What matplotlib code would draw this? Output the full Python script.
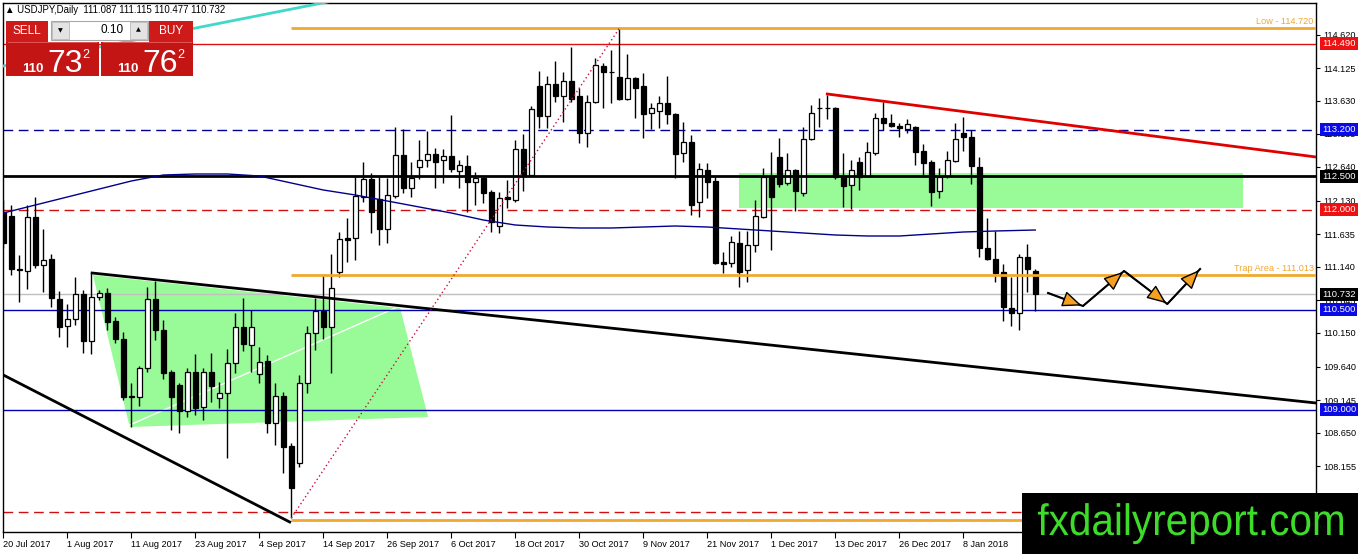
import numpy as np
import matplotlib
matplotlib.use("Agg")
import matplotlib.pyplot as plt
from matplotlib.patches import Rectangle, Polygon, PathPatch
from matplotlib.textpath import TextPath
from matplotlib.font_manager import FontProperties
from matplotlib.transforms import Affine2D, blended_transform_factory

plt.rcParams['font.family'] = ['Liberation Sans', 'DejaVu Sans']

# daily candles USDJPY, 20 Jul 2017 .. 19 Jan 2018
opens = [111.965, 111.905, 111.11, 111.08, 111.89, 111.17, 111.26, 110.66, 110.255, 110.36,
         110.735, 110.03, 110.69, 110.75, 110.33, 110.06, 109.205, 109.19, 109.625, 110.66,
         110.195, 109.565, 109.37, 108.98, 109.565, 109.04, 109.565, 109.175, 109.25, 109.70,
         110.24, 109.97, 109.535, 109.73, 108.80, 109.205, 108.455, 108.20, 109.40, 110.15,
         110.48, 110.24, 111.065, 111.575, 111.575, 112.19, 112.46, 112.16, 111.71, 112.205,
         112.82, 112.325, 112.64, 112.745, 112.835, 112.745, 112.805, 112.58, 112.655, 112.415,
         112.475, 112.265, 111.755, 112.19, 112.145, 112.91, 112.52, 113.855, 113.405, 113.885,
         113.705, 113.93, 113.705, 113.15, 113.615, 114.155, 114.065, 113.99, 113.66, 113.975,
         113.855, 113.45, 113.48, 113.60, 113.435, 112.85, 113.015, 112.115, 112.595, 112.43,
         111.215, 111.20, 111.50, 111.095, 111.47, 111.89, 112.49, 112.79, 112.40, 112.595,
         112.25, 113.06, 113.525, 113.525, 113.525, 112.49, 112.37, 112.715, 112.505, 112.85,
         113.375, 113.30, 113.255, 113.21, 113.24, 112.88, 112.715, 112.28, 112.505, 112.73,
         113.15, 113.09, 112.64, 111.425, 111.26, 111.065, 110.525, 110.45, 111.29, 111.087]
highs = [112.145, 112.07, 111.32, 112.07, 112.19, 111.71, 111.335, 110.78, 110.585, 110.99,
         110.795, 111.05, 110.795, 110.825, 110.39, 110.165, 109.40, 109.655, 110.84, 110.93,
         110.345, 109.595, 109.40, 109.625, 109.835, 109.625, 109.85, 109.415, 109.91, 110.45,
         110.675, 110.495, 109.94, 109.82, 109.40, 109.265, 108.50, 109.52, 110.255, 110.675,
         111.02, 111.335, 111.665, 111.875, 112.49, 112.715, 112.55, 112.49, 112.475, 113.24,
         113.21, 112.715, 113.045, 113.18, 112.925, 112.91, 113.42, 112.745, 112.82, 112.565,
         112.49, 112.295, 112.265, 112.445, 113.045, 113.135, 113.555, 114.08, 114.005, 114.23,
         114.065, 114.44, 113.825, 113.72, 114.275, 114.20, 114.395, 114.72, 114.335, 113.99,
         114.05, 113.60, 113.705, 114.005, 113.45, 113.315, 113.12, 112.70, 112.70, 112.49,
         111.365, 111.605, 111.68, 111.68, 112.145, 112.625, 112.865, 113.075, 112.85, 112.61,
         113.24, 113.57, 113.675, 113.72, 113.54, 112.85, 112.745, 112.79, 113.015, 113.45,
         113.615, 113.435, 113.30, 113.36, 113.255, 112.985, 112.745, 112.625, 112.88, 113.30,
         113.39, 113.195, 112.79, 111.875, 111.68, 111.185, 110.99, 111.335, 111.485, 111.115]
lows = [111.425, 111.02, 110.615, 110.81, 111.125, 110.765, 110.54, 110.09, 109.94, 110.27,
        109.85, 109.835, 110.645, 110.195, 110.00, 109.145, 108.74, 109.055, 109.565, 110.045,
        109.46, 108.695, 108.65, 108.89, 108.92, 108.845, 109.115, 109.025, 108.275, 109.55,
        109.88, 109.565, 109.40, 108.65, 108.47, 108.05, 107.375, 108.14, 109.25, 109.895,
        110.06, 109.55, 110.99, 111.215, 111.245, 112.115, 111.65, 111.47, 111.50, 112.175,
        112.25, 112.19, 112.46, 112.64, 112.325, 112.40, 112.565, 112.325, 111.965, 112.07,
        112.10, 111.665, 111.65, 112.025, 112.115, 112.28, 112.505, 113.225, 113.225, 113.615,
        113.315, 113.615, 113.00, 112.94, 113.60, 113.525, 113.60, 113.64, 113.64, 113.375,
        113.075, 113.21, 113.225, 113.285, 112.475, 112.715, 111.92, 111.89, 112.175, 111.18,
        111.05, 111.14, 110.84, 110.915, 111.365, 111.875, 111.395, 112.34, 112.37, 111.98,
        112.205, 113.045, 113.24, 113.36, 112.46, 112.04, 112.01, 112.295, 112.49, 112.82,
        113.195, 113.24, 113.09, 113.15, 112.67, 112.49, 112.055, 112.175, 112.475, 112.715,
        112.88, 112.385, 111.29, 111.245, 110.915, 110.33, 110.255, 110.195, 110.765, 110.477]
closes = [111.50, 111.11, 111.095, 111.89, 111.17, 111.245, 110.675, 110.24, 110.36, 110.735,
          110.03, 110.69, 110.75, 110.315, 110.06, 109.19, 109.19, 109.625, 110.66, 110.195,
          109.55, 109.19, 108.98, 109.565, 109.025, 109.565, 109.355, 109.25, 109.70, 110.24,
          109.985, 110.24, 109.715, 108.80, 109.205, 108.44, 107.825, 109.40, 110.15, 110.48,
          110.24, 110.825, 111.56, 111.545, 112.205, 112.46, 111.965, 111.71, 112.22, 112.82,
          112.325, 112.475, 112.745, 112.835, 112.715, 112.805, 112.61, 112.67, 112.415, 112.475,
          112.25, 111.815, 112.175, 112.16, 112.91, 112.52, 113.51, 113.405, 113.885, 113.705,
          113.93, 113.66, 113.15, 113.615, 114.17, 114.065, 114.06, 113.66, 113.975, 113.825,
          113.435, 113.525, 113.60, 113.435, 112.835, 113.015, 112.07, 112.61, 112.415, 111.20,
          111.185, 111.515, 111.065, 111.47, 111.905, 112.49, 112.19, 112.385, 112.595, 112.28,
          113.06, 113.45, 113.52, 113.52, 112.49, 112.355, 112.595, 112.49, 112.865, 113.375,
          113.30, 113.255, 113.225, 113.285, 112.865, 112.70, 112.265, 112.49, 112.745, 113.06,
          113.09, 112.655, 111.425, 111.26, 111.05, 110.54, 110.45, 111.29, 111.11, 110.732]

# moving average (blue), sampled every few bars
ma_bars = [0, 4, 8, 12, 16, 20, 24, 28, 32, 36, 40, 44, 48, 52, 56, 60, 64, 68, 72, 76,
           80, 84, 88, 92, 96, 100, 104, 108, 112, 116, 120, 124, 129]
ma_vals = [111.95, 112.07, 112.19, 112.31, 112.43, 112.52, 112.535, 112.535, 112.505, 112.40,
           112.295, 112.22, 112.13, 112.04, 111.95, 111.845, 111.77, 111.74, 111.725, 111.725,
           111.74, 111.755, 111.74, 111.71, 111.68, 111.65, 111.62, 111.605, 111.605, 111.635,
           111.665, 111.68, 111.695]

date_ticks = [0, 8, 16, 24, 32, 40, 48, 56, 64, 72, 80, 88, 96, 104, 112, 120]
date_labels = ["20 Jul 2017", "1 Aug 2017", "11 Aug 2017", "23 Aug 2017", "4 Sep 2017",
               "14 Sep 2017", "26 Sep 2017", "6 Oct 2017", "18 Oct 2017", "30 Oct 2017",
               "9 Nov 2017", "21 Nov 2017", "1 Dec 2017", "13 Dec 2017", "26 Dec 2017",
               "8 Jan 2018"]
price_ticks = [114.620, 114.125, 113.630, 113.135, 112.640, 112.130, 111.635, 111.140,
               110.645, 110.150, 109.640, 109.145, 108.650, 108.155, 107.660]

# levels
high_level = 114.720
trap_level = 111.013
bottom_level = 107.35
res_red = 114.490
res_blue = 113.200
pivot = 112.500
sup_red = 112.000
bid = 110.732
sup_blue = 110.500
sup_blue2 = 109.000
low_red = 107.465

# trend lines (bar index, price)
tl_lower_x, tl_lower_y = [0.0, 35.8], [109.52, 107.315]
tl_long_x, tl_long_y = [11.1, 164.1], [111.05, 109.10]
tl_red_x, tl_red_y = [103.0, 164.1], [113.735, 112.79]
tl_teal_x, tl_teal_y = [0.0, 40.5], [114.155, 115.115]
tl_dot_x, tl_dot_y = [36.0, 77.0], [107.375, 114.72]
tl_white_x, tl_white_y = [15.8, 49.0], [108.77, 110.525]
tri_x = [11.2, 49.6, 53.1, 15.8]
tri_y = [111.02, 110.525, 108.89, 108.74]
zone_x = [92.0, 155.0]
zone_y = [112.025, 112.55]
zig_x = [130.6, 134.96, 140.1, 145.5, 149.6]
zig_y = [110.75, 110.555, 111.08, 110.585, 111.11]

box_prices = [res_red, res_blue, pivot, sup_red, bid, sup_blue, sup_blue2]
box_colors = ['#ee1111', '#0a0ae6', 'black', '#ee1111', 'black', '#0a0ae6', '#0a0ae6']

W, H = 1358, 554
fig = plt.figure(figsize=(W / 100, H / 100), dpi=100)
ax = fig.add_axes([3 / W, 22 / H, 1313 / W, 529 / H])
xmax = 164.09
ax.set_xlim(-0.04, xmax)
ax.set_ylim(107.165, 115.10)

# green areas
ax.add_patch(Polygon(list(zip(tri_x, tri_y)), closed=True, fc='#98fb98', ec='none', zorder=1))
ax.add_patch(Rectangle((zone_x[0], zone_y[0]), zone_x[1] - zone_x[0], zone_y[1] - zone_y[0],
                       fc='#98fb98', ec='none', zorder=1))
ax.plot(tl_white_x, tl_white_y, color='white', lw=1, zorder=1.5)

# horizontal levels
ax.axhline(res_red, color='#e01010', lw=1, zorder=2)
ax.axhline(res_blue, color='#000090', lw=1, ls=(0, (7, 4)), zorder=2)
ax.axhline(pivot, color='black', lw=2, zorder=5)
ax.axhline(sup_red, color='#d01010', lw=1, ls=(0, (7, 4)), zorder=2)
ax.axhline(bid, color='#c0c0c0', lw=1, zorder=2)
ax.axhline(sup_blue, color='#0000b0', lw=1, zorder=2)
ax.axhline(sup_blue2, color='#0000b0', lw=1, zorder=2)
ax.axhline(low_red, color='#d01010', lw=1, ls=(0, (7, 4)), zorder=2)
for lvl in [high_level, trap_level, bottom_level]:
    ax.hlines(lvl, 35.9, xmax, color='#f0a830', lw=2, zorder=5)
ax.text(163.8, high_level + 0.04, "Low - %.3f" % high_level, color='#f0a830', fontsize=6.6,
        ha='right', va='bottom', zorder=6)
ax.text(163.8, trap_level + 0.04, "Trap Area - %.3f" % trap_level, color='#f0a830', fontsize=6.6,
        ha='right', va='bottom', zorder=6)

# candles
x = np.arange(len(opens))
o, h, l, c = map(np.array, (opens, highs, lows, closes))
up = c >= o
ax.vlines(x, l, h, color='black', lw=1, zorder=3)
ax.bar(x[up], (c - o)[up], bottom=o[up], width=0.62, color='white', edgecolor='black', lw=0.9, zorder=4)
ax.bar(x[~up], (o - c)[~up], bottom=c[~up], width=0.62, color='black', edgecolor='black', lw=0.9, zorder=4)

# MA + trend lines
ax.plot(ma_bars, ma_vals, color='#00008b', lw=1, zorder=5)
ax.plot(tl_lower_x, tl_lower_y, color='black', lw=2, zorder=5)
ax.plot(tl_long_x, tl_long_y, color='black', lw=2, zorder=5)
ax.plot(tl_red_x, tl_red_y, color='#e00000', lw=2, zorder=5)
ax.plot(tl_teal_x, tl_teal_y, color='#40d8c8', lw=2, zorder=5)
ax.plot(tl_dot_x, tl_dot_y, color='#c8103c', lw=1, ls=(0, (1, 2)), zorder=5)

# projected zigzag: black path, orange arrow heads
ax.plot(zig_x, zig_y, color='black', lw=1.5, zorder=6)
for i in range(len(zig_x) - 1):
    ax.annotate("", xy=(zig_x[i + 1], zig_y[i + 1]), xytext=(zig_x[i], zig_y[i]),
                arrowprops=dict(arrowstyle='-|>,head_length=1.2,head_width=0.5',
                                fc='#f5a020', ec='black', lw=1.0, shrinkA=0, shrinkB=1),
                zorder=7)

# axes styling
ax.yaxis.tick_right()
ax.set_yticks(price_ticks)
ax.set_yticklabels(["%.3f" % p for p in price_ticks])
ax.set_xticks(date_ticks)
ax.set_xticklabels(date_labels, ha='left')
ax.tick_params(axis='y', direction='out', length=3, pad=2, labelsize=6.6, width=0.8)
ax.tick_params(axis='x', direction='out', length=4, pad=2, labelsize=6.6, width=0.8)
for s in ax.spines.values():
    s.set_linewidth(1)

trans = blended_transform_factory(ax.transAxes, ax.transData)
for p, col in zip(box_prices, box_colors):
    ax.text(1.0046, p, "%.3f" % p, transform=trans, color='white', fontsize=6.8,
            ha='left', va='center', clip_on=False, zorder=20,
            bbox=dict(boxstyle='square,pad=0.22', fc=col, ec='none'))

# overlay in pixel coords: header, trade panel, watermark
ov = fig.add_axes([0, 0, 1, 1], zorder=10)
ov.set_xlim(0, W)
ov.set_ylim(H, 0)
ov.axis('off')

ov.text(5, 10, "▲ USDJPY,Daily  %.3f %.3f %.3f %.3f" % (opens[-1], highs[-1], lows[-1], closes[-1]),
        fontsize=6.9, va='center', ha='left')

red = '#cf1a1a'
ov.add_patch(Rectangle((6, 21), 42, 21, fc=red, ec='none'))
ov.add_patch(Rectangle((149, 21), 44, 21, fc=red, ec='none'))
ov.add_patch(Rectangle((51, 21), 97, 19, fc='white', ec='#a8a8a8', lw=0.8))
ov.add_patch(Rectangle((52, 22), 17, 17, fc='#e3e3e3', ec='#b8b8b8', lw=0.6))
ov.add_patch(Rectangle((130, 22), 17, 17, fc='#e3e3e3', ec='#b8b8b8', lw=0.6))
ov.add_patch(Rectangle((6, 42), 93, 34, fc='#c41515', ec='none'))
ov.add_patch(Rectangle((101, 42), 92, 34, fc='#c41515', ec='none'))
ov.plot([8, 97], [42, 42], color='#e86060', lw=0.6)
ov.plot([103, 191], [42, 42], color='#e86060', lw=0.6)
ov.text(27, 31, "SELL", color='white', fontsize=8.5, ha='center', va='center')
ov.text(171, 31, "BUY", color='white', fontsize=8.5, ha='center', va='center')
ov.text(124, 30, "0.10", color='black', fontsize=8.5, ha='right', va='center')
ov.text(60.5, 30.5, "▼", color='black', fontsize=4.5, ha='center', va='center', family='DejaVu Sans')
ov.text(138.5, 30, "▲", color='black', fontsize=4.5, ha='center', va='center', family='DejaVu Sans')
for x0, big in [(22, "73"), (117, "76")]:
    ov.text(x0, 72, "110", color='white', fontsize=9.5, fontweight='bold', ha='left', va='baseline')
    ov.text(x0 + 25, 72, big, color='white', fontsize=23, ha='left', va='baseline')
    ov.text(x0 + 60, 58, "2", color='white', fontsize=9, ha='left', va='baseline')

# watermark
ov.add_patch(Rectangle((1022, 493), W - 1022, H - 493, fc='black', ec='none'))
tp = TextPath((0, 0), "fxdailyreport.com", size=1, prop=FontProperties(family='Liberation Sans'))
ext = tp.get_extents()
tr = Affine2D().translate(-ext.x0, 0).scale(305 / ext.width, -44).translate(1038, 535)
ov.add_patch(PathPatch(tr.transform_path(tp), fc='#3ddc2b', ec='none'))

fig.savefig("out.png", dpi=100)
